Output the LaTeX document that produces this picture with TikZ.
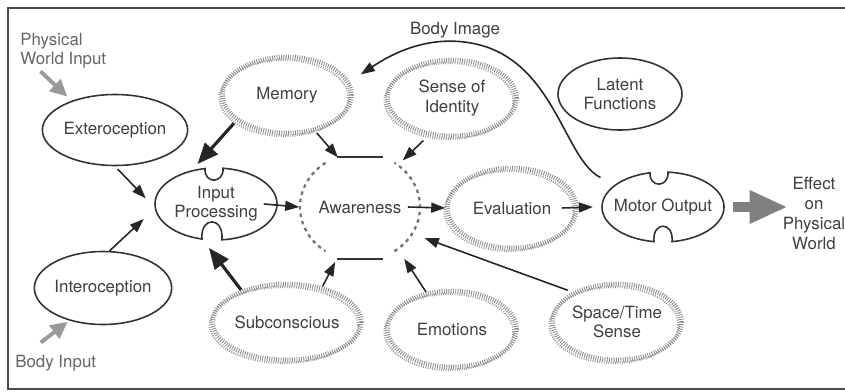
\documentclass[tikz,border=0pt]{standalone}
\usepackage{fontspec}
\setmainfont{TeX Gyre Heros}
\usetikzlibrary{shapes.geometric,arrows.meta,positioning,calc}

\begin{document}
\begin{tikzpicture}[
  x=0.02cm, y=-0.02cm,
  font=\fontsize{9.6}{11}\selectfont,
  oval/.style={ellipse, draw=black!80, line width=0.9pt, minimum width=2.48cm, minimum height=1.44cm, inner sep=0pt, align=center, text=black!75},
  hatch/.style={oval, draw=black!45, line width=2.6pt, dash pattern=on 0.5pt off 0.8pt, minimum width=2.58cm, minimum height=1.52cm,
    preaction={draw=black!40, line width=1.2pt, transform canvas={shift={(-0.06cm,-0.06cm)}}}},
  notched/.style={oval, draw=none},
  outline/.style={draw=black!80, line width=0.9pt},
  dots/.style={draw=black!55, line width=1.3pt, dash pattern=on 0.07cm off 0.08cm},
  arrow/.style={-{Triangle[length=0.28cm,width=0.2cm]}, line width=0.9pt, draw=black!85},
  heavy/.style={-{Triangle[length=0.42cm,width=0.34cm]}, line width=1.8pt, draw=black!85},
  inarrow/.style={-{Triangle[length=0.34cm,width=0.32cm]}, line width=2.2pt, draw=black!40},
  outarrow/.style={-{Triangle[length=0.76cm,width=0.62cm]}, line width=0.2cm, draw=black!50},
  note/.style={align=center, text=black!75, inner sep=0pt},
  frame/.style={draw=black!70, line width=1.3pt}
]
\useasboundingbox (0,0) rectangle (845,392);
\fill[white] (0,0) rectangle (845,392);
\draw[frame] (845,8) -- (8,8) -- (8,389) -- (845,389);

% ovals
\node[oval, minimum height=1.42cm] (ext) at (115,130) {Exteroception};
\node[oval, minimum width=2.46cm, minimum height=1.46cm] (int) at (103,288) {Interoception};
\node[notched] (inp) at (216,204) {Input\\Processing};
\node[hatch] (mem) at (287,95) {Memory};
\node[hatch] (sid) at (452,98) {Sense of\\Identity};
\node[oval] (lat) at (620,94) {Latent\\Functions};
\node[notched, minimum width=2.4cm, minimum height=2.1cm] (aware) at (360,207) {Awareness};
\node[hatch, minimum height=1.6cm] (eva) at (512,208) {Evaluation};
\node[notched, minimum height=1.4cm] (mot) at (663,207) {Motor Output};
\node[hatch] (sub) at (287,322) {Subconscious};
\node[hatch] (emo) at (452,329) {Emotions};
\node[hatch] (spt) at (617,322) {Space/Time\\Sense};

% free labels
\node[note, text=black!60, anchor=north west, align=left] (phys) at (20,33) {Physical\\World Input};
\node[note, text=black!60, anchor=west] (bodyin) at (15,363) {Body Input};
\node[note] (bimg) at (455,30) {Body Image};
\node[note, font=\fontsize{9.6}{11.4}\selectfont] (eff) at (814,213) {Effect\\on\\Physical\\World};

% notched outlines
\begin{scope}[shift={(inp.center)}]
\draw[outline] plot[domain=100.4:256.7, samples=40] ({61*cos(\x)},{-36*sin(\x)})
  .. controls (-16,12) and (8,12) .. ({61*cos(275.6)},{-36*sin(275.6)})
  -- plot[domain=275.6:443.4, samples=40] ({61*cos(\x)},{-36*sin(\x)})
  .. controls (8,-20) and (-12,-20) .. cycle;
\end{scope}
\begin{scope}[shift={(mot.center)}]
\draw[outline] plot[domain=102.3:261.5, samples=40] ({61*cos(\x)},{-35*sin(\x)})
  .. controls (-11,14) and (11,14) .. ({61*cos(278.5)},{-35*sin(278.5)})
  -- plot[domain=278.5:445.3, samples=40] ({61*cos(\x)},{-35*sin(\x)})
  .. controls (6,-19) and (-14,-19) .. cycle;
\end{scope}
\begin{scope}[shift={(aware.center)}]
\draw[dots] plot[domain=125:235, samples=30] ({60*cos(\x)},{-54*sin(\x)});
\draw[dots] plot[domain=-55:55, samples=30] ({60*cos(\x)},{-54*sin(\x)});
\draw[outline] (-23,-50) -- (23,-50);
\draw[outline] (-23,52) -- (23,52);
\end{scope}

% inputs
\draw[inarrow, shorten <=2pt, shorten >=0.12cm] ([xshift=0.36cm]phys.south west) -- (ext.146);
\draw[inarrow, shorten <=2pt, shorten >=0.04cm] ([xshift=0.46cm,yshift=0.2cm]bodyin.north west) -- (int.224);
\draw[arrow, shorten <=0.08cm, shorten >=0.22cm] (ext.south) -- (inp.182);
\draw[arrow, shorten >=0.28cm] (int.80) -- (inp.185);
\draw[heavy, shorten <=0.06cm, shorten >=0.16cm] (mem.207) -- (inp.125);
\draw[heavy, shorten >=0.2cm] (sub.145) -- (inp.250);

% into awareness
\draw[arrow] ([xshift=-0.3cm]inp.east) -- (aware.west);
\draw[arrow, shorten <=0.04cm] (mem.308) -- (aware.114);
\draw[arrow, shorten <=0.14cm, shorten >=0.14cm] (sid.238) -- (aware.48);
\draw[arrow, shorten >=0.12cm] (sub.45) -- (aware.246);
\draw[arrow, shorten >=0.24cm] (emo.125) -- (aware.312);
\draw[arrow, shorten <=0.1cm, shorten >=0.26cm] (spt.146) -- (aware.333);

% outputs
\draw[arrow] ([xshift=-0.26cm]aware.east) -- (eva.west);
\draw[arrow] ([xshift=-0.34cm]eva.east) -- (mot.west);
\draw[outarrow, shorten >=-0.1cm] (mot.east) -- (mot.east -| eff.west);
\draw[arrow, shorten <=0.24cm, shorten >=0.26cm] (mot.155)
  .. controls (565,160) and (555,65) .. (480,45)
  .. controls (430,32) and (390,55) .. (mem.12);
\end{tikzpicture}
\end{document}
